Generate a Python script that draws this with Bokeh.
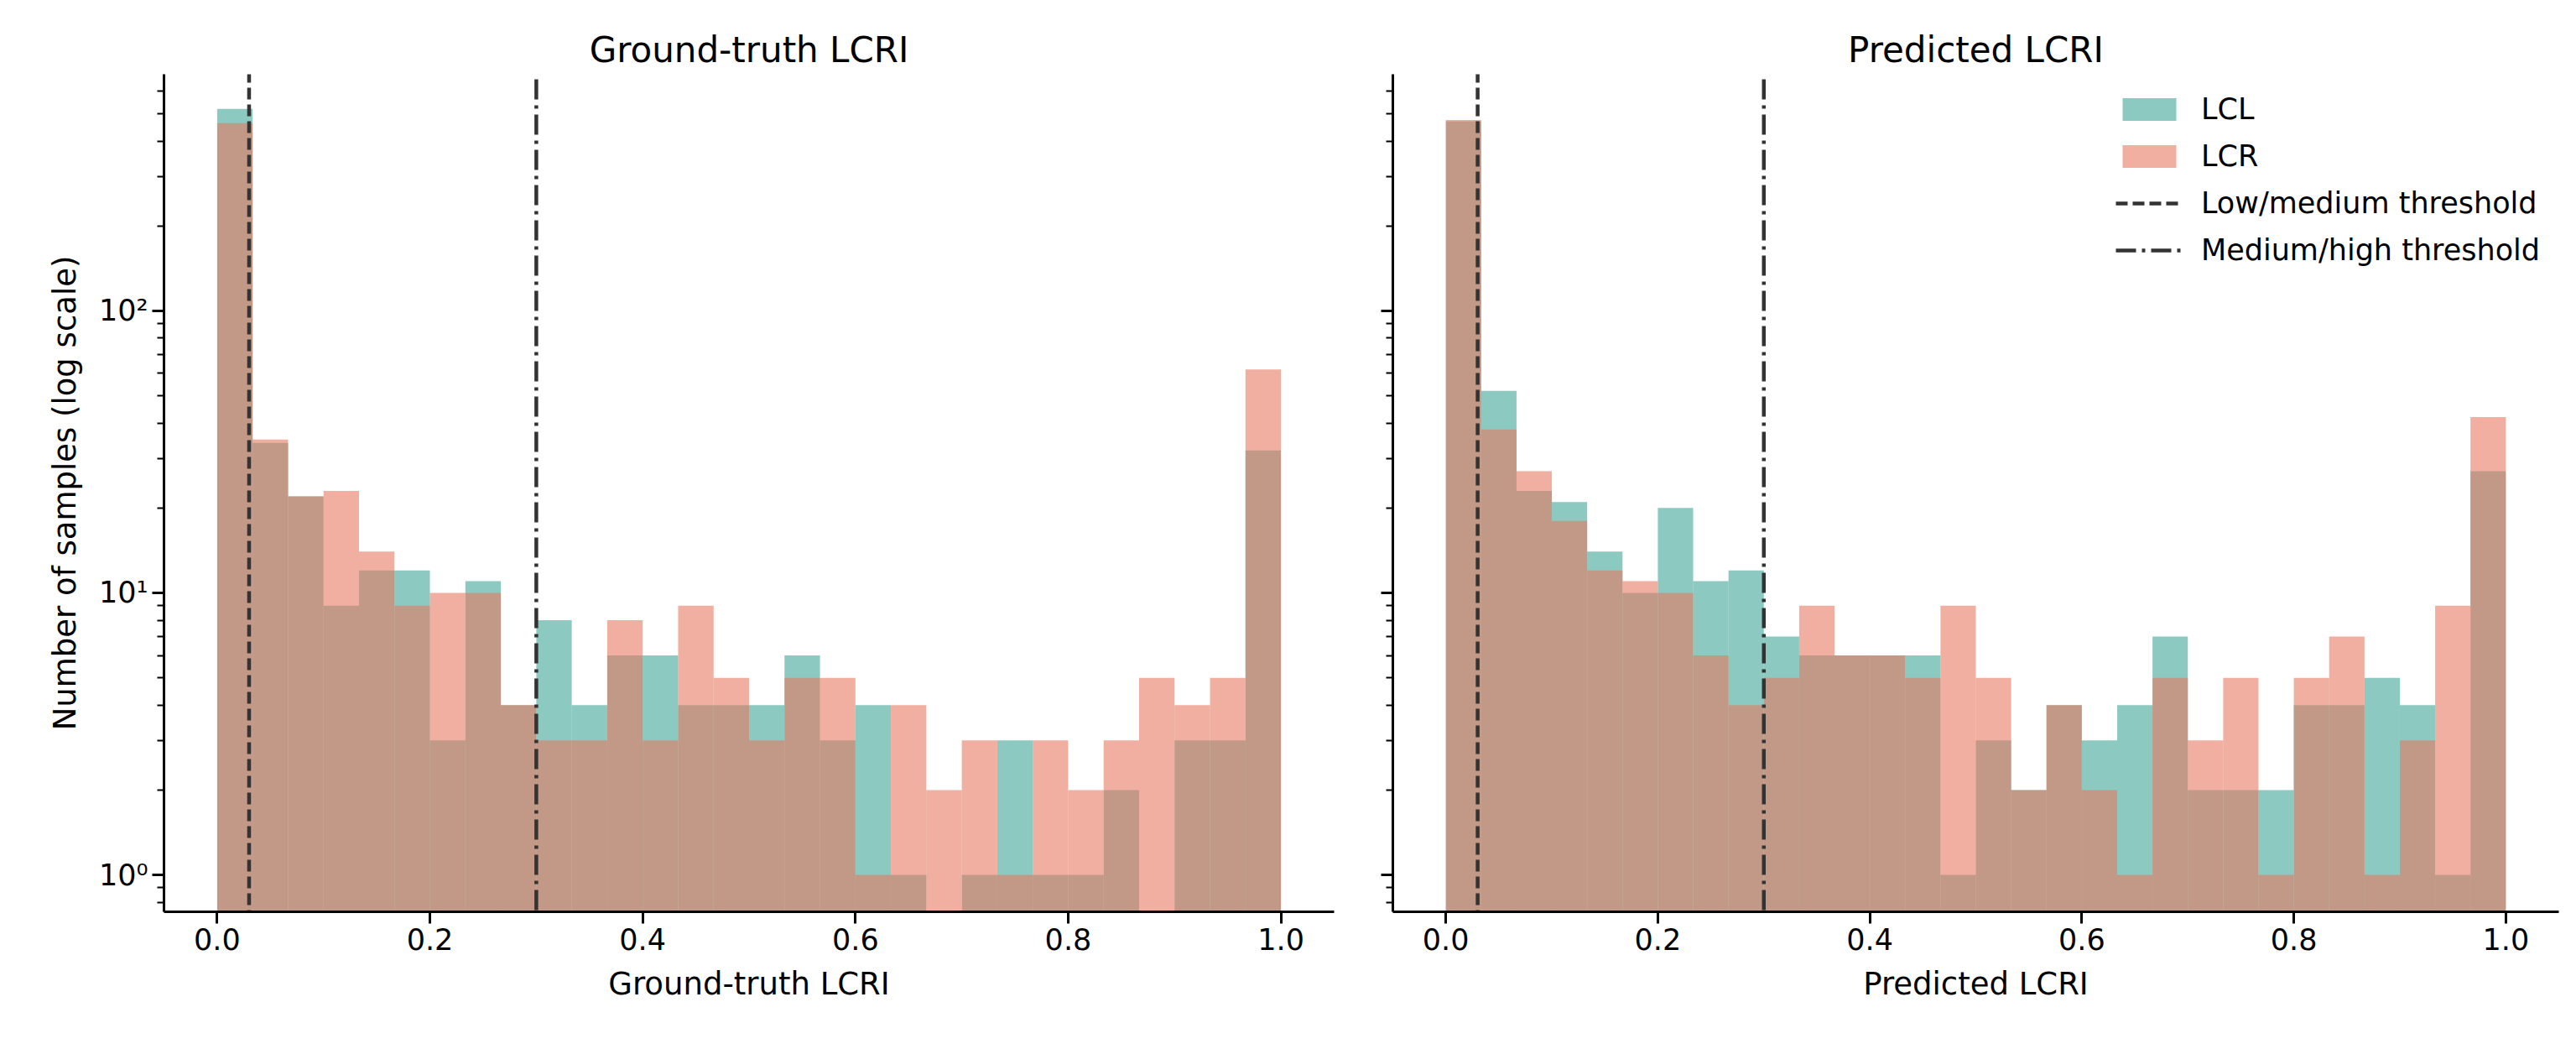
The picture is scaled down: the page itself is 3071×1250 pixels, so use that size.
import numpy as np
from bokeh.plotting import figure
from bokeh.layouts import row
from bokeh.models import ColumnDataSource, Legend, LegendItem, CustomJSTickFormatter, FixedTicker
from bokeh.embed import file_html
from bokeh.resources import INLINE

# histogram counts, 30 bins over [0, 1]
gt_lcl = [520, 34, 22, 9, 12, 12, 3, 11, 4, 8, 4, 6, 6, 4, 4, 4, 6, 3, 4, 1, 0, 1, 3, 1, 1, 2, 0, 3, 3, 32]
gt_lcr = [463, 35, 22, 23, 14, 9, 10, 10, 4, 3, 3, 8, 3, 9, 5, 3, 5, 5, 1, 4, 2, 3, 1, 3, 2, 3, 5, 4, 5, 62]
pr_lcl = [470, 52, 23, 21, 14, 10, 20, 11, 12, 7, 6, 6, 6, 6, 1, 3, 2, 4, 3, 4, 7, 2, 2, 2, 4, 4, 5, 4, 1, 27]
pr_lcr = [475, 38, 27, 18, 12, 11, 10, 6, 4, 5, 9, 6, 6, 5, 9, 5, 2, 4, 2, 1, 5, 3, 5, 1, 5, 7, 1, 3, 9, 42]
low_thr = 0.03
high_thr = 0.3
edges = np.linspace(0, 1, 31)

TEAL = "#3fa596"
SALMON = "#e67a61"
FONT = "DejaVu Sans"


def panel(title, xlabel, lcl, lcr, first):
    p = figure(width=1630 if first else 1425, height=1234, y_axis_type="log",
               x_range=(-0.05, 1.05), y_range=(0.74, 690),
               output_backend="svg", toolbar_location=None,
               min_border_left=195 if first else 30, min_border_right=40 if first else 5,
               min_border_top=88, min_border_bottom=148)
    p.title.text = title
    p.title.align = "center"
    p.title.text_font = FONT
    p.title.text_font_size = "42px"
    p.title.text_font_style = "normal"
    p.title.text_color = "black"
    p.outline_line_color = None
    p.grid.visible = False

    items = []
    for vals, col, name in ((lcl, TEAL, "LCL"), (lcr, SALMON, "LCR")):
        top = [v if v > 0 else np.nan for v in vals]
        src = ColumnDataSource(dict(left=edges[:-1], right=edges[1:], top=top))
        r = p.quad(left="left", right="right", top="top", bottom=0.1, source=src,
                   fill_color=col, fill_alpha=0.6, line_color=None)
        items.append(LegendItem(label=name, renderers=[r]))
    r1 = p.line([low_thr, low_thr], [0.1, 1e4], line_color="#333333", line_width=4.5, line_dash="14 6")
    r2 = p.line([high_thr, high_thr], [0.1, 1e4], line_color="#333333", line_width=4.5,
                line_dash="24 7 4 7")
    items.append(LegendItem(label="Low/medium threshold", renderers=[r1]))
    items.append(LegendItem(label="Medium/high threshold", renderers=[r2]))

    for ax in (p.xaxis, p.yaxis):
        ax.axis_line_width = 3
        ax.major_tick_line_width = 3
        ax.minor_tick_line_width = 2
        ax.major_tick_out = 14
        ax.major_tick_in = 0
        ax.minor_tick_out = 8
        ax.minor_tick_in = 0
        ax.major_label_text_font = FONT
        ax.major_label_text_font_size = "35px"
        ax.major_label_text_color = "black"
        ax.axis_label_text_font = FONT
        ax.axis_label_text_font_size = "37px"
        ax.axis_label_text_font_style = "normal"
        ax.axis_label_text_color = "black"
        ax.axis_label_standoff = 16
    p.xaxis.ticker = FixedTicker(ticks=[0, 0.2, 0.4, 0.6, 0.8, 1.0])
    p.xaxis.formatter = CustomJSTickFormatter(code="return tick.toFixed(1);")
    p.xaxis.axis_label = xlabel
    p.xaxis.minor_tick_out = 0
    p.yaxis.formatter = CustomJSTickFormatter(code="""
        const s = {'0':'\u2070','1':'\u00b9','2':'\u00b2','3':'\u00b3'};
        return '10' + s[String(Math.round(Math.log10(tick)))];""")
    if first:
        p.yaxis.axis_label = "Number of samples (log scale)"
    else:
        p.yaxis.major_label_text_alpha = 0
        legend = Legend(items=items, location="top_right", border_line_color=None,
                        label_text_font=FONT, label_text_font_size="35px",
                        label_text_color="black",
                        glyph_width=80, glyph_height=34, spacing=16, margin=22,
                        label_standoff=22, background_fill_alpha=0)
        p.add_layout(legend)
    return p


p1 = panel("Ground-truth LCRI", "Ground-truth LCRI", gt_lcl, gt_lcr, True)
p2 = panel("Predicted LCRI", "Predicted LCRI", pr_lcl, pr_lcr, False)
p = row(p1, p2)
open("out.html", "w").write(file_html(p, INLINE))
